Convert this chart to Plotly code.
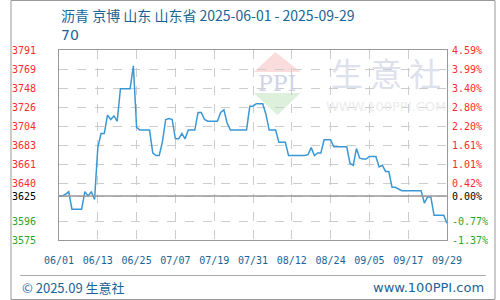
import plotly.graph_objects as go
import numpy as np
import pandas as pd

title_text = "沥青 京博 山东 山东省 2025-06-01 - 2025-09-29"
subtitle_text = "70"
start_date = "2025-06-01"
end_date = "2025-09-29"
base_price = 3625
y_min, y_max = 3575, 3791

prices = [
    3625, 3625, 3627, 3630, 3610, 3610, 3610, 3610, 3630, 3625,
    3630, 3621, 3680, 3696, 3696, 3717, 3712, 3716, 3710, 3747,
    3747, 3747, 3747, 3773, 3703, 3700, 3700, 3700, 3700, 3674,
    3671, 3671, 3687, 3712, 3713, 3712, 3690, 3690, 3696, 3690,
    3700, 3700, 3700, 3720, 3720, 3712, 3710, 3710, 3710, 3710,
    3720, 3723, 3708, 3700, 3700, 3700, 3700, 3700, 3700, 3727,
    3727, 3730, 3730, 3730, 3718, 3700, 3700, 3700, 3686, 3686,
    3686, 3671, 3671, 3671, 3671, 3671, 3671, 3672, 3680, 3671,
    3674, 3674, 3689, 3689, 3689, 3681, 3681, 3681, 3681, 3681,
    3662, 3660, 3679, 3668, 3667, 3667, 3670, 3670, 3670, 3658,
    3660, 3653, 3653, 3635, 3635, 3633, 3631, 3631, 3631, 3631,
    3631, 3631, 3631, 3617, 3624, 3624, 3603, 3603, 3603, 3603,
    3594,
]
dates = pd.date_range(start_date, periods=len(prices), freq="D")

x_tick_labels = ["06/01", "06/13", "06/25", "07/07", "07/19", "07/31",
                 "08/12", "08/24", "09/05", "09/17", "09/29"]
left_labels = ["3575", "3596", "3640", "3661", "3683", "3704", "3726", "3748", "3769", "3791"]
right_labels = ["-1.37%", "-0.77%", "0.42%", "1.01%", "1.61%", "2.20%", "2.80%", "3.40%", "3.99%", "4.59%"]

RED, GREEN, BLACK = "#ff2a2a", "#2aa52a", "#000000"
BLUE_TXT = "#1a6496"

grid_vals = list(np.linspace(y_min, y_max, 11))
grid_vals = [v for i, v in enumerate(grid_vals) if i != 2]  # 3618 line replaced by base line
tick_vals = grid_vals[:2] + [base_price] + grid_vals[2:]

lt = []
rt = []
for i, lab in enumerate(left_labels[:2]):
    lt.append(f"<span style='color:{GREEN}'>{lab}</span>")
    rt.append(f"<span style='color:{GREEN}'>{right_labels[i]}</span>")
lt.append(f"<span style='color:{BLACK}'>{base_price}</span>")
rt.append(f"<span style='color:{BLACK}'>0.00%</span>")
for i, lab in enumerate(left_labels[2:]):
    lt.append(f"<span style='color:{RED}'>{lab}</span>")
    rt.append(f"<span style='color:{RED}'>{right_labels[i + 2]}</span>")

x_ticks = pd.date_range(start_date, end_date, freq="12D")

fig = go.Figure()
fig.add_trace(go.Scatter(x=dates, y=prices, mode="lines",
                         line=dict(color="#3a98d6", width=1.5), showlegend=False,
                         hoverinfo="skip"))
fig.add_trace(go.Scatter(x=[dates[0]], y=[base_price], yaxis="y2", mode="markers",
                         marker=dict(opacity=0), showlegend=False, hoverinfo="skip"))

W, H = 500, 300
L, R, T, B = 50, 50, 50, 60
PW, PH = W - L - R, H - T - B

def px(x):
    return (x - L) / PW

def py(y):
    return (H - B - y) / PH

mono = "DejaVu Sans Mono"
fig.update_layout(
    width=W, height=H,
    margin=dict(l=L, r=R, t=T, b=B),
    paper_bgcolor="white", plot_bgcolor="rgba(0,0,0,0)",
    xaxis=dict(
        type="date", range=[start_date, end_date],
        tickvals=x_ticks, ticktext=x_tick_labels,
        tickfont=dict(family=mono, size=10, color=BLUE_TXT),
        showgrid=True, gridcolor="#cccccc", griddash="dash", gridwidth=1,
        showline=True, linecolor="#999999", linewidth=1, mirror=True,
        ticks="", ticklabelstandoff=11, zeroline=False, fixedrange=True,
    ),
    yaxis=dict(
        range=[y_min, y_max], tickvals=tick_vals, ticktext=lt,
        tickfont=dict(family=mono, size=10),
        showgrid=True, gridcolor="#cccccc", griddash="dash", gridwidth=1,
        showline=True, linecolor="#999999", linewidth=1, mirror=True,
        ticks="", ticklabelstandoff=20, zeroline=False,
    ),
    yaxis2=dict(
        range=[y_min, y_max], tickvals=tick_vals, ticktext=rt,
        overlaying="y", side="right", showgrid=False,
        tickfont=dict(family=mono, size=10),
        ticks="", ticklabelstandoff=4, zeroline=False, showline=False,
    ),
)

shapes = []
shapes.append(dict(type="path", xref="paper", yref="paper", layer="below",
                   path=f"M {px(273)} {py(52)} L {px(251)} {py(72)} L {px(299)} {py(72)} Z",
                   fillcolor="#fbdcdc", line=dict(width=0)))
shapes.append(dict(type="path", xref="paper", yref="paper", layer="below",
                   path=f"M {px(251)} {py(93)} L {px(299)} {py(93)} L {px(275)} {py(115)} Z",
                   fillcolor="#dcf0dc", line=dict(width=0)))
shapes.append(dict(type="line", xref="paper", yref="y", x0=0, x1=1, y0=base_price, y1=base_price,
                   line=dict(color="#999999", width=1.5)))
shapes.append(dict(type="line", xref="paper", yref="paper", x0=px(10), x1=px(490), y0=py(275.5), y1=py(275.5),
                   line=dict(color="#aaaaaa", width=1)))
shapes.append(dict(type="rect", xref="paper", yref="paper", x0=px(0.5), x1=px(499.5), y0=py(299.5), y1=py(0.5),
                   line=dict(color="#999999", width=1), fillcolor="rgba(0,0,0,0)"))
fig.update_layout(shapes=shapes)

ann = []
ann.append(dict(text="PPI", x=px(275), y=py(83), xref="paper", yref="paper", showarrow=False,
                font=dict(family="DejaVu Serif", size=22, color="#cdd4e6"), xanchor="center", yanchor="middle"))
ann.append(dict(text="生 意 社", x=px(387), y=py(72), xref="paper", yref="paper", showarrow=False,
                font=dict(family="Noto Sans CJK SC", size=32, color="#dde1ec"), xanchor="center", yanchor="middle"))
ann.append(dict(text="WWW.100PPI.COM", x=px(387), y=py(106), xref="paper", yref="paper", showarrow=False,
                font=dict(family="DejaVu Sans", size=13, color="#ececec"), xanchor="center", yanchor="middle"))
ann.append(dict(text=title_text, x=px(50), y=py(15), xref="paper", yref="paper", showarrow=False,
                font=dict(family="Noto Sans CJK SC", size=14, color=BLUE_TXT), xanchor="left", yanchor="middle"))
ann.append(dict(text=subtitle_text, x=px(50), y=py(35), xref="paper", yref="paper", showarrow=False,
                font=dict(family="DejaVu Sans", size=14, color=BLUE_TXT), xanchor="left", yanchor="middle"))
ann.append(dict(text="© 2025.09 生意社", x=px(10), y=py(287), xref="paper", yref="paper", showarrow=False,
                font=dict(family="Noto Sans CJK SC", size=13, color=BLUE_TXT), xanchor="left", yanchor="middle"))
ann.append(dict(text="www.100PPI.com", x=px(490), y=py(287), xref="paper", yref="paper", showarrow=False,
                font=dict(family="DejaVu Sans", size=13, color=BLUE_TXT), xanchor="right", yanchor="middle"))
fig.update_layout(annotations=ann)

fig.write_html("out.html")
